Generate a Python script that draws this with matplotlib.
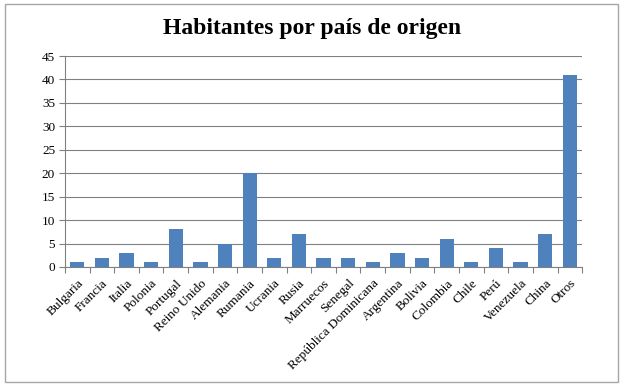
import matplotlib.pyplot as plt
import numpy as np
from matplotlib.patches import Rectangle

paises = ["Bulgaria", "Francia", "Italia", "Polonia", "Portugal", "Reino Unido",
          "Alemania", "Rumania", "Ucrania", "Rusia", "Marruecos", "Senegal",
          "República Dominicana", "Argentina", "Bolivia", "Colombia", "Chile",
          "Perú", "Venezuela", "China", "Otros"]
habitantes = [1, 2, 3, 1, 8, 1, 5, 20, 2, 7, 2, 2, 1, 3, 2, 6, 1, 4, 1, 7, 41]
yticks = list(range(0, 46, 5))

plt.rcParams['font.family'] = ['Liberation Serif', 'DejaVu Serif']

fig = plt.figure(figsize=(6.24, 3.85), dpi=100)
# marco exterior del grafico
fig.patches.append(Rectangle((5/624, 3/385), 613/624, 378/385, transform=fig.transFigure,
                             fill=False, edgecolor='#a6a6a6', linewidth=1))

ax = fig.add_axes([0.104, 0.3065, 0.829, 0.548])
x = np.arange(len(paises))
ax.bar(x, habitantes, width=0.58, color='#4f81bd', zorder=3)

ax.set_xlim(-0.5, len(paises) - 0.5)
ax.set_ylim(0, 45)
ax.set_yticks(yticks)
ax.tick_params(axis='y', labelsize=9.5, length=4, color='#808080', pad=3)
ax.yaxis.grid(True, color='#808080', linewidth=0.8, zorder=0)

# ticks del eje x entre categorias
ax.set_xticks(np.arange(-0.5, len(paises), 1))
ax.set_xticklabels([])
ax.tick_params(axis='x', length=4, color='#808080')
for xi, nombre in zip(x, paises):
    ax.text(xi, -2.2, nombre, rotation=45, ha='right', va='top',
            rotation_mode='anchor', fontsize=9.5)

for side in ['top', 'right']:
    ax.spines[side].set_visible(False)
ax.spines['left'].set_color('#808080')
ax.spines['bottom'].set_color('#808080')

fig.text(0.5, 0.925, "Habitantes por país de origen", ha='center', va='center',
         fontsize=17, fontweight='bold')

fig.savefig('out.png', dpi=100)
